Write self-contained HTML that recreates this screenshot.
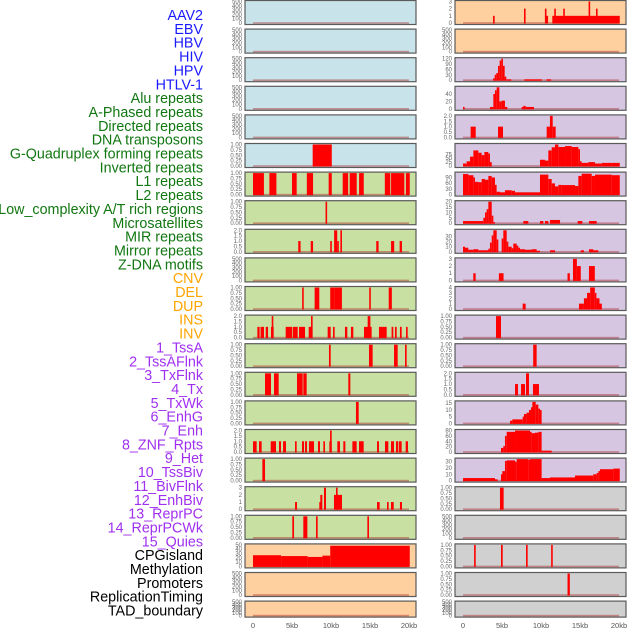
<!DOCTYPE html>
<html><head><meta charset="utf-8">
<style>
html,body{margin:0;padding:0;background:#fff;width:630px;height:630px;overflow:hidden}
svg{display:block;font-family:"Liberation Sans",sans-serif}
</style></head>
<body>
<svg id="chart" width="630" height="630" viewBox="0 0 630 630" xmlns="http://www.w3.org/2000/svg"></svg>
<script>
// ---- data ----
const trackLabels = ["AAV2","EBV","HBV","HIV","HPV","HTLV-1","Alu repeats","A-Phased repeats","Directed repeats","DNA transposons","G-Quadruplex forming repeats","Inverted repeats","L1 repeats","L2 repeats","Low_complexity A/T rich regions","Microsatellites","MIR repeats","Mirror repeats","Z-DNA motifs","CNV","DEL","DUP","INS","INV","1_TssA","2_TssAFlnk","3_TxFlnk","4_Tx","5_TxWk","6_EnhG","7_Enh","8_ZNF_Rpts","9_Het","10_TssBiv","11_BivFlnk","12_EnhBiv","13_ReprPC","14_ReprPCWk","15_Quies","CPGisland","Methylation","Promoters","ReplicationTiming","TAD_boundary"];
const labelGroups = ["v","v","v","v","v","v","r","r","r","r","r","r","r","r","r","r","r","r","r","c","c","c","c","c","h","h","h","h","h","h","h","h","h","h","h","h","h","h","h","k","k","k","k","k"];
const xTickLabels = ["0","5kb","10kb","15kb","20kb"];
const xTickValues = [0,5,10,15,20];

const T500 = [0,100,200,300,400,500];
const T1 = [0,0.25,0.5,0.75,1];
const T2 = [0,0.5,1,1.5,2];
const T3 = [0,1,2,3];
const T4 = [0,1,2,3,4];

// left column segments [startKb, endKb, value]
const L0 = [], L1 = [], L2 = [], L3 = [], L4 = [];
const L5 = [[7.65,10.1,1]];
const L6 = [[0,1.4,1],[2.1,3.0,1],[5.0,5.6,1],[6.9,7.7,1],[9.7,10.1,1],[11.5,12.2,1],[12.4,13.3,1],[13.6,14.2,1],[16.9,17.6,1],[17.7,19.4,1],[19.6,20.1,1]];
const L7 = [[9.3,9.5,1]];
const L8 = [[5.8,6.1,1],[7.4,7.7,1],[9.9,10.1,1],[10.4,10.8,2],[10.8,11.0,1],[11.2,11.4,2],[15.8,16.1,1],[17.7,18.1,1],[18.8,19.1,1]];
const L9 = [];
const L10 = [[6.3,6.5,1],[7.9,8.5,1],[9.9,10.4,1],[10.4,11.4,1],[14.9,15.1,1],[17.4,17.8,1]];
const L11 = [[0.56,0.85,1],[0.97,1.41,1],[1.63,1.93,1],[2.31,2.65,1],[2.4,2.56,2],[4.19,5.0,1],[5.09,5.73,1],[5.9,6.67,1],[7.14,7.52,1],[7.44,7.61,2],[9.57,9.96,1],[10.26,10.47,1],[11.79,12.09,1],[12.56,12.86,1],[14.23,15.21,1],[14.7,15.05,2],[16.15,17.14,1],[17.77,17.99,1],[18.2,18.42,1],[18.84,19.06,1],[19.62,19.83,1]];
const L12 = [[9.74,9.96,1],[14.87,15.34,1],[18.08,18.55,1],[19.49,19.7,1]];
const L13 = [[1.54,2.31,1],[2.69,3.29,1],[5.64,6.37,1],[6.45,6.88,1],[12.22,12.48,1]];
const L14 = [[13.2,13.55,1]];
const L15 = [[0,0.47,1],[0.77,1.11,1],[2.27,2.95,1],[3.33,3.59,1],[3.85,4.23,1],[5.39,5.6,1],[6.28,6.54,1],[6.67,6.92,1],[7.18,7.82,1],[8.33,8.59,1],[9.02,9.23,1],[9.79,10.09,1],[9.88,10.09,2],[10.81,11.15,1],[11.58,11.84,1],[12.74,13.29,1],[13.59,14.19,1],[15.9,16.15,1],[16.92,17.35,1],[17.69,18.08,1],[18.33,18.63,1],[18.72,19.06,1],[19.57,19.87,1]];
const L16 = [[1.2,1.54,1]];
const L17 = [[5.39,5.64,1],[8.5,8.8,1],[8.63,8.89,2],[9.1,9.36,3],[10.38,10.77,2],[10.64,10.85,3],[10.77,11.41,2],[15.9,16.24,1],[17.18,17.39,1],[17.69,18.04,1],[18.84,19.1,1]];
const L18 = [[5.04,5.26,1],[6.45,6.97,1],[8.08,8.29,1],[14.66,14.87,1]];
const L19 = [[0,3.6,26],[3.6,7.0,24],[7.0,8.9,22],[8.9,9.9,25],[9.9,20.1,48]];
const L20 = [], L21 = [];

// right column segments
const R0 = [[3.85,4.06,1],[7.82,7.99,2],[10.5,10.7,2],[10.7,10.9,1],[11.45,20.1,1],[11.7,11.85,2],[12.85,13.0,2],[16.1,16.3,3],[17.05,17.25,2]];
const R1 = [];
const R2 = [[3.85,4.06,10],[4.06,4.27,30],[4.27,4.49,40],[4.49,4.7,80],[4.7,4.91,110],[4.91,5.12,120],[5.12,5.34,80],[5.34,5.55,20],[5.55,6.19,5],[7.86,10.1,5],[10.7,11.3,5]];
const R3 = [[0,0.2,5],[3.46,3.89,5],[3.89,4.1,40],[4.1,4.32,50],[4.32,4.66,58],[4.66,4.96,20],[4.96,5.38,22],[5.38,5.68,5],[7.52,7.75,5],[7.75,8.03,8],[8.03,9.1,5]];
const R4 = [[0.98,1.63,1],[4.49,5.13,1],[10.73,11.15,1],[11.15,11.5,2],[11.5,11.88,1]];
const R5 = [[0,0.47,16],[0.47,0.9,30],[0.9,1.33,60],[1.33,1.97,100],[1.97,2.39,85],[2.39,2.74,70],[2.74,3.25,90],[3.25,3.46,80],[3.46,3.68,25],[9.87,10.51,40],[10.51,10.94,35],[10.94,11.37,100],[11.37,11.79,120],[11.79,12.22,138],[12.22,13.08,122],[13.08,13.93,128],[13.93,14.79,122],[14.79,15.0,108],[15.0,15.21,30],[15.21,16.07,20],[16.07,16.92,25],[16.92,17.78,16],[17.78,19.06,20],[19.06,20.1,20]];
const R6 = [[0,0.69,108],[0.69,1.33,102],[1.33,1.54,90],[1.54,1.97,67],[1.97,2.39,65],[2.39,2.82,82],[2.82,3.25,78],[3.25,3.68,98],[3.68,4.1,90],[4.1,4.31,51],[4.31,4.74,15],[4.74,5.38,12],[5.38,6.24,23],[6.24,6.67,20],[6.67,9.87,12],[9.87,10.94,105],[10.94,11.37,82],[11.37,11.79,59],[11.79,12.22,43],[12.22,12.65,51],[12.65,14.36,50],[14.36,14.79,45],[14.79,15.21,98],[15.21,16.5,110],[16.5,16.92,98],[16.92,19.06,105],[19.06,20.1,102]];
const R7 = [[0,2.61,2],[2.61,2.82,5],[2.82,3.03,10],[3.03,3.25,13],[3.25,3.68,20],[3.68,3.89,7],[3.89,4.1,1],[7.73,8.38,2],[9.87,10.3,2],[10.51,10.94,2],[11.15,12.44,3],[14.7,15.3,2],[16.15,17.14,2]];
const R8 = [[0,0.26,10],[0.26,0.68,8],[0.68,1.32,4],[1.32,1.97,5],[1.97,3.25,3],[3.25,3.46,6],[3.46,3.68,18],[3.68,3.89,32],[3.89,4.32,42],[4.32,4.53,24],[4.96,5.17,26],[5.17,5.6,42],[5.6,5.81,20],[5.81,6.24,10],[6.24,6.45,7],[6.45,6.88,16],[6.88,7.09,12],[7.09,7.31,8],[7.31,7.95,5],[7.95,8.8,4],[8.8,9.44,5],[9.44,9.87,2],[11.15,11.8,3],[15.1,15.5,3],[16.15,16.7,5],[16.7,17.35,3]];
const R9 = [[1.32,1.62,1],[4.6,5.2,1],[13.4,13.7,1],[14.1,14.6,3],[14.6,15.1,2],[16.15,16.9,2]];
const R10 = [[7.65,8.03,1],[14.87,15.5,1],[15.5,15.9,2],[15.9,16.3,3],[16.3,16.9,4],[16.9,17.1,3],[17.1,17.5,2],[17.5,17.8,1]];
const R11 = [[4.23,4.87,1]];
const R12 = [[9.0,9.44,1]];
const R13 = [[6.67,7.05,1],[7.44,7.95,1],[8.08,8.46,2],[8.97,9.74,1]];
const R14 = [[6.03,6.32,2],[6.32,7.65,3],[7.65,7.82,5],[7.82,8.16,7],[8.16,8.46,8],[8.46,8.72,10],[8.72,8.89,12],[8.89,9.32,16],[9.32,9.66,14],[9.66,9.87,11],[9.87,10.08,10]];
const R15 = [[4.87,5.17,15],[5.17,5.38,22],[5.38,5.6,60],[5.6,6.67,75],[6.67,8.59,80],[8.59,8.8,75],[8.8,9.23,70],[9.23,9.66,72],[9.66,10.08,75],[10.08,11.37,5]];
const R16 = [[0,4.1,4],[4.1,4.44,2],[4.87,5.04,10],[5.04,5.38,15],[5.38,5.6,31],[5.6,6.67,32],[6.67,6.88,30],[6.88,8.38,34],[8.38,8.59,33],[8.59,10.08,34],[10.08,11.15,4],[11.15,14.36,5],[14.36,16.7,8],[16.7,17.14,10],[17.14,17.35,12],[17.35,17.56,15],[17.56,19.27,18],[19.27,20.1,19]];
const R17 = [[4.74,5.21,1]];
const R18 = [];
const R19 = [[1.42,1.63,1],[4.87,5.09,1],[8.08,8.29,1],[11.3,11.5,1]];
const R20 = [[13.4,13.7,1]];
const R21 = [];

const leftSeries = [L0,L1,L2,L3,L4,L5,L6,L7,L8,L9,L10,L11,L12,L13,L14,L15,L16,L17,L18,L19,L20,L21];
const rightSeries = [R0,R1,R2,R3,R4,R5,R6,R7,R8,R9,R10,R11,R12,R13,R14,R15,R16,R17,R18,R19,R20,R21];
const leftTicks = [T500,T500,T500,T500,T500,T1,T1,T1,T2,T500,T1,T2,T1,T1,T1,T2,T1,T3,T1,[0,10,20,30,40,50],T500,T500];
const rightTicks = [T3,T500,[0,30,60,90,120],[0,20,40],T2,[0,25,50,75],[0,30,60,90],[0,5,10,15,20],[0,10,20,30],T3,T4,T1,T1,T2,[0,5,10,15],[0,20,40,60,80],[0,10,20,30],T1,T500,T1,T1,T500];
const leftYMax = [500,500,500,500,500,1,1,1,2,500,1,2,1,1,1,2,1,3,1,50,500,500];
const rightYMax = [3,500,120,58,2,138,113,20,42,3,4,1,1,2,16,80,34,1,500,1,1,500];
const leftBg = ["b","b","b","b","b","b","g","g","g","g","g","g","g","g","g","g","g","g","g","o","o","o"];
const rightBg = ["o","o","p","p","p","p","p","p","p","p","p","p","p","p","p","p","p","g2","g2","g2","g2","g2"];

// ---- rendering ----
const NS = "http://www.w3.org/2000/svg";
const svg = document.getElementById("chart");
const bgColors = {b:"#c8e3ea",g:"#c8e1a3",o:"#fecf9f",p:"#d6c6e1",g2:"#d0d0d0"};
const labelColors = {v:"#1a1aff",r:"#117711",c:"#ffa500",h:"#a030f0",k:"#000000"};
function mk(tag, attrs){ const e=document.createElementNS(NS,tag); for(const k in attrs) e.setAttribute(k,attrs[k]); return e; }

trackLabels.forEach((t,i)=>{
  const el = mk("text",{x:203,y:20+i*13.85,"text-anchor":"end","font-size":"14.3",fill:labelColors[labelGroups[i]]});
  
  
  el.textContent = t;
  svg.appendChild(el);
});

const cols = [{px:245,x0:253,series:leftSeries,ticks:leftTicks,ymax:leftYMax,bg:leftBg,name:"left"},
              {px:455,x0:463,series:rightSeries,ticks:rightTicks,ymax:rightYMax,bg:rightBg,name:"right"}];
const PW = 171, KB = 7.8;

cols.forEach(col=>{
  const sx = kb => col.x0 + kb*KB;
  for(let r=0;r<22;r++){
    const top = r*28.6 + 0.5;
    const h = r===21 ? 16 : 24;
    const g = mk("g",{});
    
    
    svg.appendChild(g);
    const rect = mk("rect",{x:col.px,y:top,width:PW,height:h,fill:bgColors[col.bg[r]],stroke:"#5a5a5a","stroke-width":"1.2"});
    
    
    g.appendChild(rect);
    const base = top + h - 1.5, span = h - 2.5;
    const ymax = col.ymax[r];
    const sy = v => base - (v/ymax)*span;
    col.ticks[r].forEach(tv=>{
      const tl = mk("text",{x:col.px-3,y:sy(tv)+2,"text-anchor":"end","font-size":"6",fill:"#666"});
      
      
      tl.textContent = (col.ticks[r]===T1) ? tv.toFixed(2) : (col.ticks[r]===T2 ? tv.toFixed(1) : String(tv));
      g.appendChild(tl);
    });
    const bl = mk("rect",{x:sx(0),y:base-0.8,width:20*KB,height:1.6,fill:"rgba(170,40,40,0.45)"});
    
    
    g.appendChild(bl);
    col.series[r].forEach(s=>{
      const x1 = sx(s[0]), x2 = sx(s[1]);
      const y = sy(s[2]);
      const b = mk("rect",{x:x1,y:y,width:Math.max(1.6,x2-x1),height:base-y+0.5,fill:"#ff0000"});
      
      
      g.appendChild(b);
    });
  }
  xTickValues.forEach((v,i)=>{
    const t = mk("text",{x:sx(v),y:628,"text-anchor":"middle","font-size":"7.5",fill:"#555"});
    
    
    t.textContent = xTickLabels[i];
    svg.appendChild(t);
  });
});
</script>
</body></html>
